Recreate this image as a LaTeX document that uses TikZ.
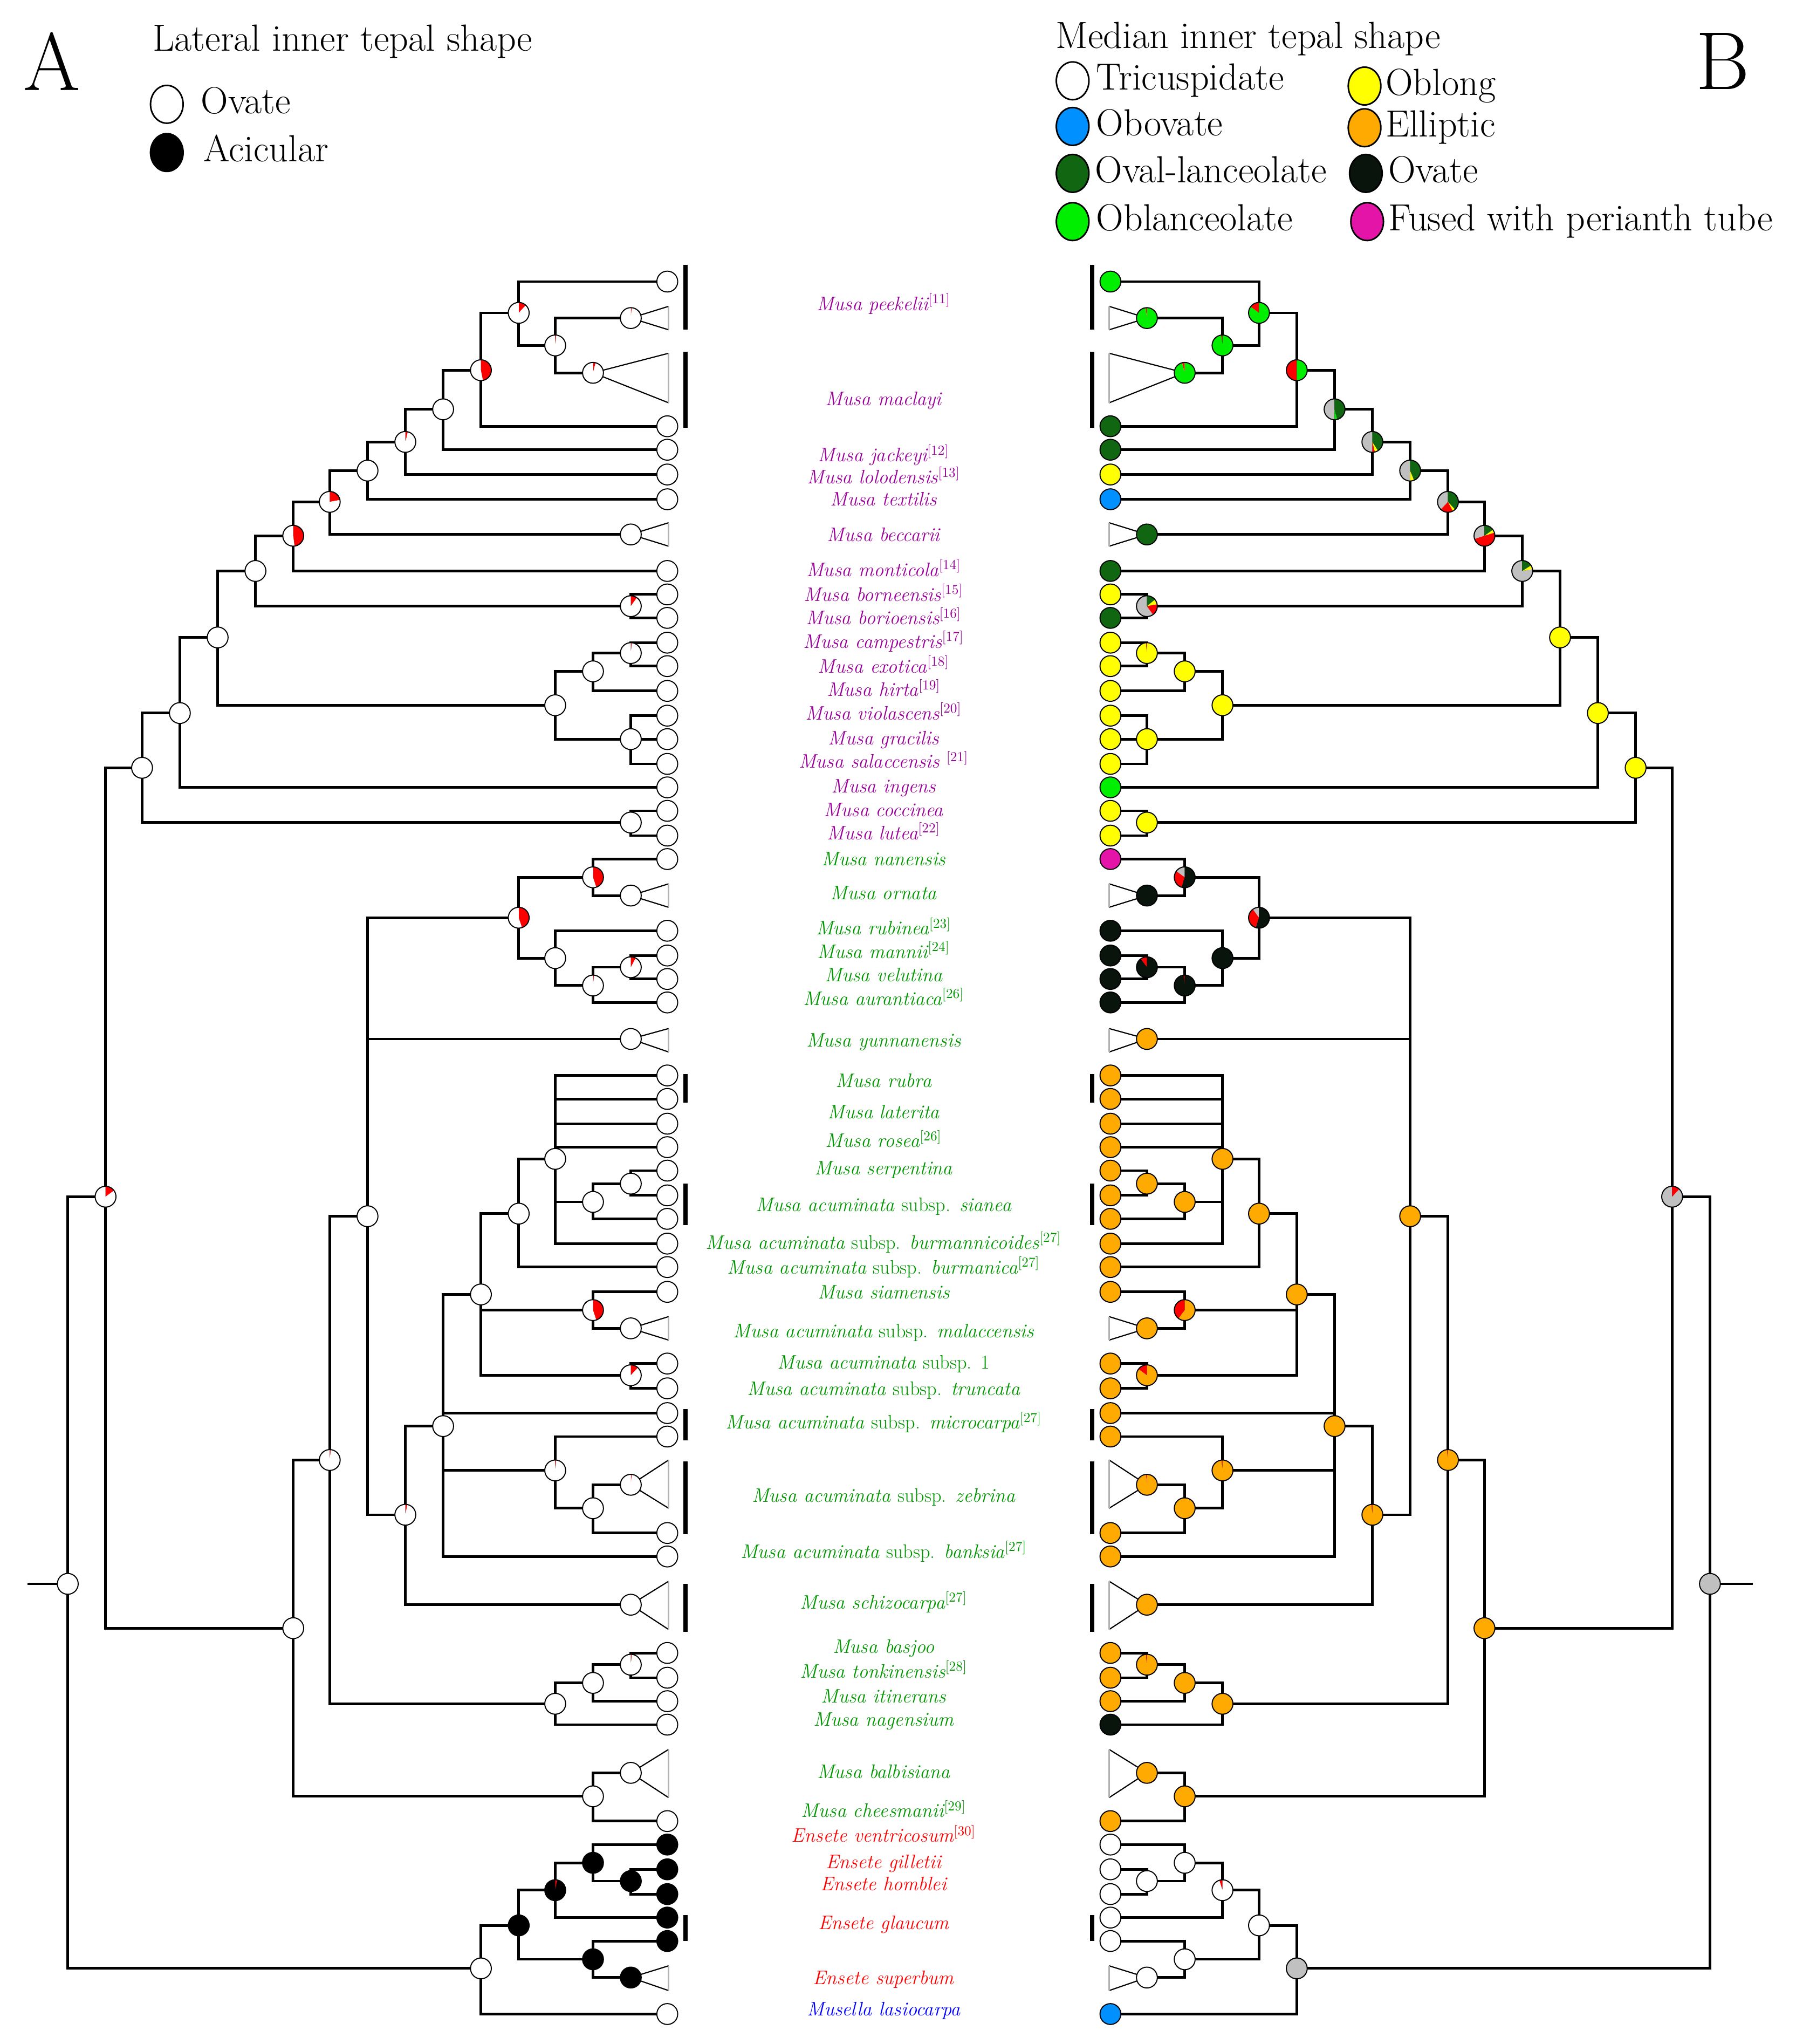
\documentclass[tikz,border=0pt]{standalone}
\usepackage{tikz}
\usetikzlibrary{positioning, shapes.geometric}
\pgfdeclarelayer{fg}
\pgfsetlayers{main,fg}
\definecolor{oblan}{RGB}{0,238,0}
\definecolor{ovlan}{RGB}{17,102,17}
\definecolor{obov}{RGB}{0,144,255}
\definecolor{oblong}{RGB}{255,255,0}
\definecolor{ellip}{RGB}{255,170,0}
\definecolor{ovat}{RGB}{8,20,12}
\definecolor{fused}{RGB}{228,20,168}
\definecolor{anc}{RGB}{192,192,192}
\definecolor{purp}{RGB}{153,0,153}
\definecolor{grn}{RGB}{0,150,0}
\newcommand{\refm}[1]{\textsuperscript{\upshape[#1]}}
\newcommand{\subsp}{{\upshape subsp.}}
\newcommand{\pienode}[3]{%
  \xdef\piest{90}%
  \foreach \pc/\pf in {#3}{%
    \pgfmathsetmacro\pien{\piest-(#2)*360*\pf}%
    \fill[\pc] (#1) -- ++(\piest:8pt) arc[start angle=\piest, end angle=\pien, radius=8pt] -- cycle;
    \xdef\piest{\pien}%
  }%
  \draw[line width=0.8pt] (#1) circle[radius=8pt];%
}
\newcommand{\treenode}[5]{%
  \coordinate (L-#1) at (#2,#3);
  \coordinate (R-#1) at ({1364-#2},#3);
  \begin{pgfonlayer}{fg}
    \pienode{L-#1}{1}{#4}
    \pienode{R-#1}{-1}{#5}
  \end{pgfonlayer}}

\begin{document}
\begin{tikzpicture}[x=1pt,y=-1pt,
  branch/.style={line width=2pt},
  clade/.style={line width=0.9pt},
  cladebase/.style={line width=1.2pt, gray!60},
  bar/.style={line width=3pt},
  lab/.style={font=\fontsize{15}{16}\selectfont\itshape, anchor=mid, inner sep=0pt},
  legtext/.style={font=\fontsize{29}{30}\selectfont, inner sep=0pt, text height=19pt, text depth=5pt},
  legdot/.style={ellipse, draw, line width=1.2pt, minimum width=25pt, minimum height=29pt, inner sep=0pt},
  panel/.style={font=\fontsize{63}{63}\selectfont, inner sep=0pt}]
\fill[white] (0,0) rectangle (1378,1568);
\useasboundingbox (0,0) rectangle (1378,1568);

\node[panel] (letA) at (40,47) {A};
\node[legtext, anchor=west] (titA) at (117,32) {Lateral inner tepal shape};
\node[legdot, fill=white] (dOva) at (128,80) {};
\node[legtext, right=13pt of dOva] (tOva) {Ovate};
\node[legdot, fill=black] (dAci) at (128,117) {};
\node[legtext, right=15pt of dAci] (tAci) {Acicular};

\node[panel] (letB) at (1322,47) {B};
\node[legtext, anchor=west] (titB) at (810,30) {Median inner tepal shape};
\node[legdot, fill=white] (dTri) at (823,62) {};
\node[legtext, right=5pt of dTri] (tTri) {Tricuspidate};
\node[legdot, fill=obov] (dObo) at (823,97) {};
\node[legtext, right=5pt of dObo] (tObo) {Obovate};
\node[legdot, fill=ovlan] (dOvl) at (823,133) {};
\node[legtext, right=4pt of dOvl] (tOvl) {Oval-lanceolate};
\node[legdot, fill=oblan] (dObl) at (823,170) {};
\node[legtext, right=5pt of dObl] (tObl) {Oblanceolate};
\node[legdot, fill=oblong] (dOlg) at (1047,66) {};
\node[legtext, right=3pt of dOlg] (tOlg) {Oblong};
\node[legdot, fill=ellip] (dEll) at (1047,98) {};
\node[legtext, right=3pt of dEll] (tEll) {Elliptic};
\node[legdot, fill=ovat] (dOvt) at (1048,133) {};
\node[legtext, right=4pt of dOvt] (tOvt) {Ovate};
\node[legdot, fill=fused] (dFus) at (1049,170) {};
\node[legtext, right=3pt of dFus] (tFus) {Fused with perianth tube};

\treenode{pee}{512}{216}{white/1}{oblan/1}
\treenode{tpee}{484}{244}{red/0.015,white/0.985}{red/0.02,oblan/0.98}
\treenode{tmac}{455}{286}{red/0.04,white/0.96}{red/0.04,oblan/0.96}
\treenode{mac}{512}{327}{white/1}{ovlan/1}
\treenode{jac}{512}{345}{white/1}{ovlan/1}
\treenode{lol}{512}{364}{white/1}{oblong/1}
\treenode{tex}{512}{383}{white/1}{obov/1}
\treenode{tbec}{484}{410}{white/1}{ovlan/1}
\treenode{mon}{512}{438}{white/1}{ovlan/1}
\treenode{bor}{512}{456}{white/1}{oblong/1}
\treenode{bri}{512}{474}{white/1}{ovlan/1}
\treenode{cam}{512}{493}{white/1}{oblong/1}
\treenode{exo}{512}{511}{white/1}{oblong/1}
\treenode{hir}{512}{530}{white/1}{oblong/1}
\treenode{vio}{512}{549}{white/1}{oblong/1}
\treenode{gra}{512}{567}{white/1}{oblong/1}
\treenode{sal}{512}{586}{white/1}{oblong/1}
\treenode{ing}{512}{604}{white/1}{oblan/1}
\treenode{coc}{512}{622}{white/1}{oblong/1}
\treenode{lut}{512}{641}{white/1}{oblong/1}
\treenode{nan}{512}{659}{white/1}{fused/1}
\treenode{torn}{484}{687}{white/1}{ovat/1}
\treenode{rub}{512}{714}{white/1}{ovat/1}
\treenode{man}{512}{733}{white/1}{ovat/1}
\treenode{vel}{512}{751}{white/1}{ovat/1}
\treenode{aur}{512}{769}{white/1}{ovat/1}
\treenode{tyun}{484}{797}{white/1}{ellip/1}
\treenode{rbr}{512}{825}{white/1}{ellip/1}
\treenode{lat}{512}{843}{white/1}{ellip/1}
\treenode{ros}{512}{862}{white/1}{ellip/1}
\treenode{ser}{512}{880}{white/1}{ellip/1}
\treenode{ac5}{512}{898}{white/1}{ellip/1}
\treenode{ac6}{512}{917}{white/1}{ellip/1}
\treenode{ac7}{512}{935}{white/1}{ellip/1}
\treenode{ac8}{512}{954}{white/1}{ellip/1}
\treenode{ac9}{512}{972}{white/1}{ellip/1}
\treenode{sia}{512}{991}{white/1}{ellip/1}
\treenode{tmal}{484}{1019}{white/1}{ellip/1}
\treenode{sub1}{512}{1046}{white/1}{ellip/1}
\treenode{tru}{512}{1065}{white/1}{ellip/1}
\treenode{mic1}{512}{1084}{white/1}{ellip/1}
\treenode{mic2}{512}{1102}{white/1}{ellip/1}
\treenode{tzeb}{484}{1139}{red/0.015,white/0.985}{red/0.015,ellip/0.985}
\treenode{zb2}{512}{1176}{white/1}{ellip/1}
\treenode{ban}{512}{1194}{white/1}{ellip/1}
\treenode{tsch}{484}{1231}{white/1}{ellip/1}
\treenode{bas}{512}{1268}{white/1}{ellip/1}
\treenode{ton}{512}{1287}{white/1}{ellip/1}
\treenode{iti}{512}{1305}{white/1}{ellip/1}
\treenode{nag}{512}{1323}{white/1}{ovat/1}
\treenode{tbal}{484}{1360}{white/1}{ellip/1}
\treenode{che}{512}{1397}{white/1}{ellip/1}
\treenode{ven}{512}{1415}{black/1}{white/1}
\treenode{gil}{512}{1434}{black/1}{white/1}
\treenode{hom}{512}{1453}{black/1}{white/1}
\treenode{gla1}{512}{1471}{black/1}{white/1}
\treenode{gla2}{512}{1489}{black/1}{white/1}
\treenode{tsup}{484}{1517}{black/1}{white/1}
\treenode{mus}{512}{1545}{white/1}{obov/1}

\treenode{i1}{398}{240}{red/0.12,white/0.88}{red/0.15,oblan/0.85}
\treenode{i2}{426}{265}{red/0.015,white/0.985}{red/0.02,oblan/0.98}
\treenode{i4}{369}{284}{red/0.47,white/0.53}{red/0.5,oblan/0.5}
\treenode{i5}{340}{314}{white/1}{anc/0.5,oblan/0.04,ovlan/0.46}
\treenode{i6}{311}{339}{red/0.04,white/0.96}{anc/0.5,red/0.04,oblong/0.05,ovlan/0.41}
\treenode{i7}{282}{361}{white/1}{anc/0.5,oblong/0.06,ovlan/0.44}
\treenode{i8}{253}{385}{red/0.22,white/0.78}{anc/0.38,red/0.2,oblong/0.04,ovlan/0.38}
\treenode{i9}{225}{411}{red/0.48,white/0.52}{anc/0.3,red/0.5,oblong/0.05,ovlan/0.15}
\treenode{i10}{196}{438}{white/1}{anc/0.78,oblong/0.06,ovlan/0.16}
\treenode{i11}{484}{465}{red/0.1,white/0.9}{anc/0.6,red/0.18,oblong/0.08,ovlan/0.14}
\treenode{i12}{167}{489}{white/1}{oblong/1}
\treenode{i13}{426}{541}{white/1}{oblong/1}
\treenode{i14}{455}{515}{white/1}{oblong/1}
\treenode{i15}{484}{567}{white/1}{oblong/1}
\treenode{i16}{484}{501}{red/0.015,white/0.985}{red/0.015,oblong/0.985}
\treenode{i17}{138}{547}{white/1}{oblong/1}
\treenode{i18}{109}{589}{white/1}{oblong/1}
\treenode{i19}{484}{631}{white/1}{oblong/1}
\treenode{i20}{455}{673}{red/0.45,white/0.55}{anc/0.15,red/0.3,ovat/0.55}
\treenode{i21}{426}{735}{white/1}{ovat/1}
\treenode{i22}{455}{756}{red/0.015,white/0.985}{red/0.015,ovat/0.985}
\treenode{i23}{484}{742}{red/0.08,white/0.92}{red/0.1,ovat/0.9}
\treenode{i24}{398}{704}{red/0.45,white/0.55}{anc/0.1,red/0.35,ovat/0.55}
\treenode{i25}{426}{889}{white/1}{ellip/1}
\treenode{i26}{455}{922}{white/1}{ellip/1}
\treenode{i27}{484}{908}{white/1}{ellip/1}
\treenode{i28}{398}{931}{white/1}{ellip/1}
\treenode{i29}{455}{1005}{red/0.45,white/0.55}{red/0.4,ellip/0.6}
\treenode{i30}{484}{1055}{red/0.12,white/0.88}{red/0.15,ellip/0.85}
\treenode{i31}{369}{993}{white/1}{ellip/1}
\treenode{i32}{426}{1128}{red/0.015,white/0.985}{red/0.015,ellip/0.985}
\treenode{i33}{455}{1157}{white/1}{ellip/1}
\treenode{i34}{340}{1094}{white/1}{ellip/1}
\treenode{i35}{311}{1162}{red/0.03,white/0.97}{red/0.015,ellip/0.985}
\treenode{i36}{282}{933}{white/1}{ellip/1}
\treenode{i37}{426}{1307}{white/1}{ellip/1}
\treenode{i38}{455}{1291}{white/1}{ellip/1}
\treenode{i39}{484}{1277}{red/0.015,white/0.985}{red/0.015,ellip/0.985}
\treenode{i40}{253}{1120}{red/0.015,white/0.985}{red/0.015,ellip/0.985}
\treenode{i41}{455}{1378}{white/1}{ellip/1}
\treenode{i42}{225}{1249}{white/1}{ellip/1}
\treenode{i43}{81}{918}{red/0.15,white/0.85}{anc/0.88,red/0.12}
\treenode{i44}{398}{1477}{black/1}{white/1}
\treenode{i45}{426}{1450}{red/0.03,black/0.97}{red/0.05,white/0.95}
\treenode{i46}{455}{1429}{black/1}{white/1}
\treenode{i47}{484}{1443}{black/1}{white/1}
\treenode{i48}{455}{1503}{black/1}{white/1}
\treenode{i49}{369}{1510}{white/1}{anc/1}
\treenode{root}{52}{1215}{white/1}{anc/1}
\coordinate (L-stub) at (21,1215);
\coordinate (R-stub) at (1345,1215);

\draw[branch] (L-stub) -- (L-root);
\draw[branch] (R-stub) -- (R-root);
\foreach \p/\c in {i1/pee, i1/i2, i2/tpee, i2/tmac, i4/i1, i4/mac, i5/i4, i5/jac,
  i6/i5, i6/lol, i7/i6, i7/tex, i8/i7, i8/tbec, i9/i8, i9/mon, i10/i9, i10/i11,
  i11/bor, i11/bri, i12/i10, i12/i13, i13/i14, i13/i15, i14/i16, i14/hir, i16/cam,
  i16/exo, i15/vio, i15/gra, i15/sal, i17/i12, i17/ing, i18/i17, i18/i19, i19/coc,
  i19/lut, i43/i18, i43/i42, root/i43, root/i49, i20/nan, i20/torn, i24/i20, i24/i21,
  i21/rub, i21/i22, i22/i23, i22/aur, i23/man, i23/vel, i36/i24, i36/tyun, i36/i35,
  i35/i34, i35/tsch, i34/i31, i34/mic1, i34/i32, i34/ban, i31/i28, i31/i29, i31/i30,
  i28/i25, i28/ac9, i25/rbr, i25/lat, i25/ros, i25/ser, i25/i26, i25/ac8, i26/i27,
  i26/ac7, i27/ac5, i27/ac6, i29/sia, i29/tmal, i30/sub1, i30/tru, i32/mic2, i32/i33,
  i33/tzeb, i33/zb2, i40/i36, i40/i37, i37/i38, i37/nag, i38/i39, i38/iti, i39/bas,
  i39/ton, i42/i40, i42/i41, i41/tbal, i41/che, i49/i44, i49/mus, i44/i45, i44/i48,
  i45/i46, i45/gla1, i46/ven, i46/i47, i47/gil, i47/hom, i48/gla2, i48/tsup}{
  \draw[branch] (L-\p) |- (L-\c);
  \draw[branch] (R-\p) |- (R-\c);
}

\foreach \t/\a/\b in {tpee/235/253, tmac/271/309, tbec/401/419, torn/678/696,
  tyun/789/807, tmal/1010/1028, tzeb/1120/1157, tsch/1213/1250, tbal/1342/1379,
  tsup/1508/1527}{
  \draw[clade] (513,\a) -- (L-\t) -- (513,\b);
  \draw[cladebase] (513,\a) -- (513,\b);
  \draw[clade] (851,\a) -- (R-\t) -- (851,\b);
  \draw[cladebase] (851,\a) -- (851,\b);
}

\foreach \a/\b in {203/253, 270/328, 824/846, 908/940, 1081/1105, 1121/1177,
  1215/1252, 1469/1489}{
  \draw[bar] (526,\a) -- (526,\b);
  \draw[bar] (838,\a) -- (838,\b);
}

\foreach \y/\c/\t [count=\k] in {
  236/purp/Musa peekelii\refm{11},
  309/purp/Musa maclayi,
  352/purp/Musa jackeyi\refm{12},
  369/purp/Musa lolodensis\refm{13},
  386/purp/Musa textilis,
  413/purp/Musa beccarii,
  440/purp/Musa monticola\refm{14},
  459/purp/Musa borneensis\refm{15},
  477/purp/Musa borioensis\refm{16},
  495/purp/Musa campestris\refm{17},
  514/purp/Musa exotica\refm{18},
  532/purp/Musa hirta\refm{19},
  550/purp/Musa violascens\refm{20},
  569/purp/Musa gracilis,
  587/purp/Musa salaccensis \refm{21},
  606/purp/Musa ingens,
  624/purp/Musa coccinea,
  642/purp/Musa lutea\refm{22},
  662/grn/Musa nanensis,
  688/grn/Musa ornata,
  715/grn/Musa rubinea\refm{23},
  733/grn/Musa mannii\refm{24},
  751/grn/Musa velutina,
  769/grn/Musa aurantiaca\refm{26},
  801/grn/Musa yunnanensis,
  832/grn/Musa rubra,
  856/grn/Musa laterita,
  878/grn/Musa rosea\refm{26},
  899/grn/Musa serpentina,
  927/grn/Musa acuminata \subsp{} sianea,
  956/grn/Musa acuminata \subsp{} burmannicoides\refm{27},
  975/grn/Musa acuminata \subsp{} burmanica\refm{27},
  994/grn/Musa siamensis,
  1024/grn/Musa acuminata \subsp{} malaccensis,
  1048/grn/Musa acuminata \subsp{} {\upshape 1},
  1068/grn/Musa acuminata \subsp{} truncata,
  1094/grn/Musa acuminata \subsp{} microcarpa\refm{27},
  1150/grn/Musa acuminata \subsp{} zebrina,
  1193/grn/Musa acuminata \subsp{} banksia\refm{27},
  1232/grn/Musa schizocarpa\refm{27},
  1266/grn/Musa basjoo,
  1285/grn/Musa tonkinensis\refm{28},
  1304/grn/Musa itinerans,
  1322/grn/Musa nagensium,
  1362/grn/Musa balbisiana,
  1392/grn/Musa cheesmanii\refm{29},
  1411/red/Ensete ventricosum\refm{30},
  1431/red/Ensete gilletii,
  1448/red/Ensete homblei,
  1478/red/Ensete glaucum,
  1520/red/Ensete superbum,
  1544/blue/Musella lasiocarpa}{
  \node[lab, text=\c] (sp\k) at (678,\y) {\t};
}
\end{tikzpicture}
\end{document}
